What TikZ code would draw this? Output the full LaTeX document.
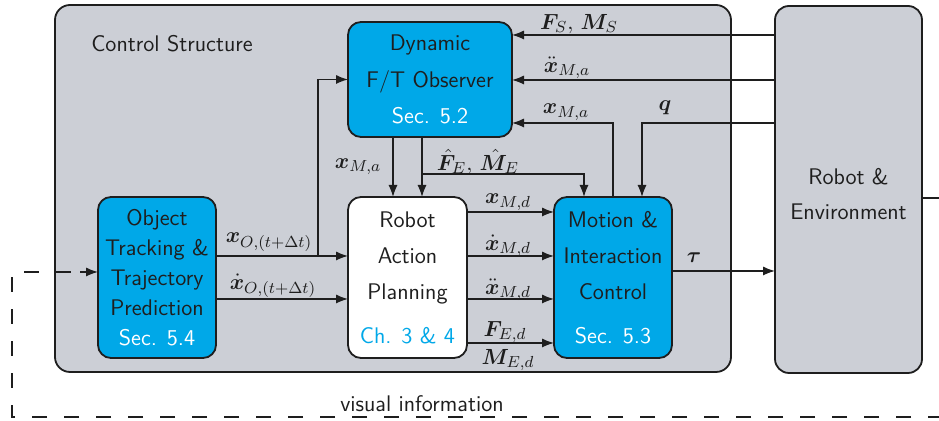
\documentclass[tikz,border=0pt]{standalone}
\usepackage{amsmath,bm}
\usetikzlibrary{arrows.meta,calc}
\definecolor{cy}{RGB}{0,168,232}
\definecolor{gr}{RGB}{204,207,214}
\definecolor{ink}{RGB}{30,30,30}
\begin{document}
\begin{tikzpicture}[x=0.5pt,y=-0.5pt,
 font=\sffamily\fontsize{11.3}{18}\selectfont,
 box/.style={draw=ink, line width=0.9pt, rounded corners=6.5pt, inner sep=0pt, outer sep=0pt, align=center, text=ink},
 cbox/.style={box, fill=cy, minimum width=59pt, minimum height=80.5pt},
 arr/.style={draw=ink, line width=0.75pt, -{Latex[length=6pt,width=4.6pt]}},
 ln/.style={draw=ink, line width=0.75pt},
 lab/.style={text=ink, inner sep=0pt, font=\fontsize{11.3}{13}\selectfont},
 vis/.style={draw=ink, line width=0.75pt, dash pattern=on 7.5pt off 8.5pt}
]
\useasboundingbox (0,0) rectangle (939,421);

% control structure
\node[box, fill=gr, rounded corners=7.5pt, minimum width=338pt, minimum height=183.5pt] (cs) at (393,188.5) {};
\node[lab, font=\sffamily\fontsize{11.3}{13}\selectfont] (cslab) at (172,44) {Control Structure};

% robot & environment
\node[box, fill=gr, rounded corners=7pt, minimum width=73.5pt, minimum height=183.5pt] (env) at (848.5,189.5) {};
\node[lab, align=center, font=\sffamily\fontsize{11.3}{17.5}\selectfont] (envlab) at (848.5,194.5) {Robot \&\\Environment};

% coordinates
\coordinate (yFS) at (0,35);
\coordinate (yAcc) at (0,80);
\coordinate (yPos) at (0,123);
\coordinate (yF) at (0,174);
\coordinate (yxO) at (0,256);
\coordinate (yxOd) at (0,299);
\coordinate (yd1) at (0,212);
\coordinate (yd2) at (0,256);
\coordinate (yd3) at (0,299);
\coordinate (yd4) at (0,343);
\coordinate (ytau) at (0,271);
\coordinate (yvis) at (0,198);
\coordinate (xbr) at (318,0);
\coordinate (x393) at (393,0);
\coordinate (x422) at (422,0);
\coordinate (x584) at (584,0);
\coordinate (x642) at (642,0);
\coordinate (vR) at (948,198);
\coordinate (vRB) at (948,417);
\coordinate (vLB) at (12,417);
\coordinate (vLT) at (12,272);

% visual information loop
\draw[ln] (env.east |- yvis) -- (vR);
\draw[vis] (vR) -- (vRB) -- (vLB) -- (vLT) -- (90,272);

% blocks
\node[cbox, minimum width=82pt, minimum height=57.5pt, font=\sffamily\fontsize{11.3}{18.25}\selectfont] (obs) at (430,79.5) {Dynamic\\F/T Observer\\{\color{white}Sec. 5.2}};
\node[cbox, font=\sffamily\fontsize{11.3}{15}\selectfont] (obj) at (157,277.5) {Object\\Tracking \&\\Trajectory\\Prediction\\{\color{white}Sec. 5.4}};
\node[cbox, fill=white, minimum width=59.5pt] (plan) at (407.5,277.5) {Robot\\Action\\Planning\\[4pt]{\color{cy}Ch. 3 \& 4}};
\node[cbox] (mot) at (613,277.5) {Motion \&\\Interaction\\Control\\[4pt]{\color{white}Sec. 5.3}};

\draw[arr] (vLT -| 80,0) -- (obj.west |- vLT);

% sensor feedback
\draw[arr] (env.west |- yFS) -- (obs.east |- yFS);
\draw[arr] (env.west |- yAcc) -- (obs.east |- yAcc);
\draw[arr] (mot.north) |- (obs.east |- yPos);
\draw[arr] (env.west |- yPos) -| (mot.north -| x642);

\node[lab] (lFS) at (579,24) {$\bm{F}_S,\,\bm{M}_S$};
\node[lab] (lAcc) at (567,68) {$\ddot{\bm{x}}_{M,a}$};
\node[lab] (lPos) at (566,112) {$\bm{x}_{M,a}$};
\node[lab] (lq) at (665,108) {$\bm{q}$};

% observer outputs
\draw[arr] (obs.south -| x393) -- (plan.north -| x393);
\draw[arr] (obs.south -| x422) -- (plan.north -| x422);
\draw[arr] (x422 |- yF) -| (mot.north -| x584);
\node[lab] (lxa) at (358,167) {$\bm{x}_{M,a}$};
\node[lab] (lFE) at (478,162) {$\hat{\bm{F}}_E,\,\hat{\bm{M}}_E$};

% object tracking outputs
\draw[arr] (obj.east |- yxO) -- (plan.west |- yxO);
\draw[arr] (xbr |- yxO) |- (obs.west);
\draw[arr] (obj.east |- yxOd) -- (plan.west |- yxOd);
\node[lab] (lxO) at (269,242) {$\bm{x}_{O,(t+\Delta t)}$};
\node[lab] (lxOd) at (273,286) {$\dot{\bm{x}}_{O,(t+\Delta t)}$};

% planning outputs
\draw[arr] (plan.east |- yd1) -- (mot.west |- yd1);
\draw[arr] (plan.east |- yd2) -- (mot.west |- yd2);
\draw[arr] (plan.east |- yd3) -- (mot.west |- yd3);
\draw[arr] (plan.east |- yd4) -- (mot.west |- yd4);
\node[lab] (ld1) at (508,202) {$\bm{x}_{M,d}$};
\node[lab] (ld2) at (508,246) {$\dot{\bm{x}}_{M,d}$};
\node[lab] (ld3) at (508,290) {$\ddot{\bm{x}}_{M,d}$};
\node[lab] (ld4) at (505,332) {$\bm{F}_{E,d}$};
\node[lab] (ld5) at (508,360) {$\bm{M}_{E,d}$};

% torque
\draw[arr] (mot.east |- ytau) -- (env.west |- ytau);
\node[lab] (ltau) at (694,258) {$\bm{\tau}$};

\node[lab, font=\sffamily\fontsize{11.3}{13}\selectfont] (vislab) at (422,404) {visual information};
\end{tikzpicture}
\end{document}
